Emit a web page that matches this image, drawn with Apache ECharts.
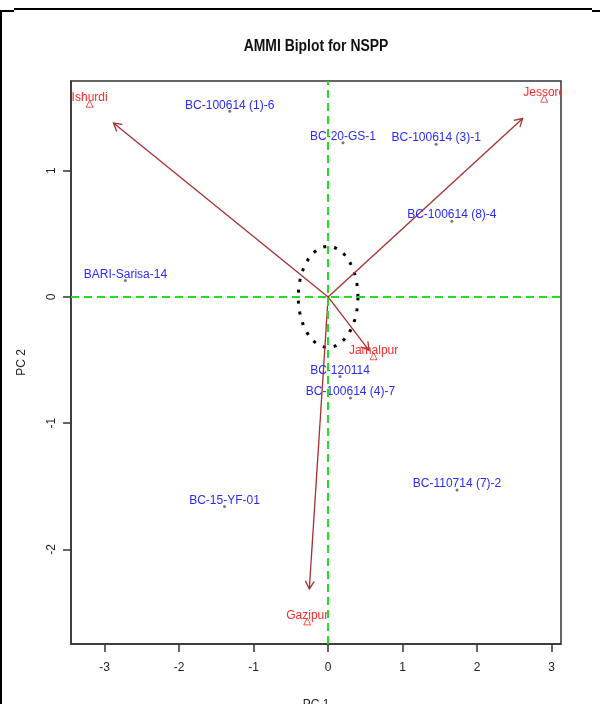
<!DOCTYPE html>
<html>
<head>
<meta charset="utf-8">
<title>AMMI Biplot for NSPP</title>
<script src="https://cdn.jsdelivr.net/npm/echarts@6/dist/echarts.min.js"></script>
<style>
  html, body { margin: 0; padding: 0; background: #ffffff; }
  #chart { width: 600px; height: 704px; }
</style>
</head>
<body>
<div id="chart"></div>
<script>
// Genotype scores on the first two interaction principal components
const genotypes = ['BC-100614 (1)-6', 'BC-20-GS-1', 'BC-100614 (3)-1', 'BC-100614 (8)-4',
  'BARI-Sarisa-14', 'BC-120114', 'BC-100614 (4)-7', 'BC-15-YF-01', 'BC-110714 (7)-2'];
const genoPC1 = [-1.32, 0.20, 1.45, 1.66, -2.72, 0.16, 0.30, -1.39, 1.73];
const genoPC2 = [1.47, 1.22, 1.21, 0.60, 0.13, -0.63, -0.80, -1.66, -1.53];

// Environment scores
const environments = ['Ishurdi', 'Jessore', 'Jamalpur', 'Gazipur'];
const envPC1 = [-3.20, 2.90, 0.61, -0.28];
const envPC2 = [1.53, 1.57, -0.47, -2.57];

// Environment vectors are drawn to 90% of the environment score
const ARROW_SCALE = 0.9;
// Radius of the dotted circle around the origin
const CIRCLE_R = 0.4;

// Axis ticks
const xTicks = [-3, -2, -1, 0, 1, 2, 3];
const yTicks = [-2, -1, 0, 1];

const FONT = 'Liberation Sans, Arial, sans-serif';
const BLUE = '#2a2aff';
const RED = '#ff2a2a';
const BROWN = '#a5302e';
const GREEN = '#22dd22';

const chart = echarts.init(document.getElementById('chart'), null, { renderer: 'canvas' });

const genoData = genotypes.map((g, i) => [genoPC1[i], genoPC2[i], i]);
const envData = environments.map((e, i) => [envPC1[i], envPC2[i], i]);
const arrowData = environments.map((e, i) => [ARROW_SCALE * envPC1[i], ARROW_SCALE * envPC2[i]]);

function labelRenderer(names, color) {
  return function (params, api) {
    const p = api.coord([api.value(0), api.value(1)]);
    return {
      type: 'text',
      x: p[0],
      y: p[1] - 6,
      style: {
        text: names[api.value(2)],
        fill: color,
        fontSize: 12,
        fontFamily: FONT,
        align: 'center',
        verticalAlign: 'middle'
      }
    };
  };
}

const option = {
  backgroundColor: '#ffffff',
  animation: false,
  graphic: [
    // page frame
    { type: 'line', shape: { x1: 14, y1: 9, x2: 592, y2: 9 }, style: { stroke: '#000', lineWidth: 2 } },
    { type: 'line', shape: { x1: 0, y1: 11, x2: 14, y2: 11 }, style: { stroke: '#000', lineWidth: 2 } },
    { type: 'line', shape: { x1: 592, y1: 11, x2: 600, y2: 11 }, style: { stroke: '#000', lineWidth: 2 } },
    { type: 'line', shape: { x1: 1, y1: 10, x2: 1, y2: 704 }, style: { stroke: '#000', lineWidth: 2 } },
    // title, set in a condensed bold face
    {
      type: 'text',
      x: 316, y: 47,
      scaleX: 0.87,
      style: {
        text: 'AMMI Biplot for NSPP',
        fill: '#111',
        fontSize: 16,
        fontWeight: 'bold',
        fontFamily: FONT,
        align: 'center',
        verticalAlign: 'middle'
      }
    }
  ],
  grid: {
    left: 71, top: 81, right: 39, bottom: 60,
    outerBoundsMode: 'none',
    containLabel: false,
    show: true, borderColor: '#333', borderWidth: 1.5, backgroundColor: 'transparent'
  },
  xAxis: {
    type: 'value',
    min: -3.45, max: 3.125,
    name: 'PC 1',
    nameLocation: 'middle',
    nameGap: 55,
    nameTextStyle: { fontSize: 12, color: '#222', fontFamily: FONT },
    axisLine: { show: true, onZero: false, lineStyle: { color: '#333', width: 1.5 } },
    axisTick: { show: true, length: 8, customValues: xTicks, lineStyle: { color: '#333', width: 1.5 } },
    axisLabel: { customValues: xTicks, margin: 18, fontSize: 12, color: '#222', fontFamily: FONT },
    splitLine: { show: false }
  },
  yAxis: {
    type: 'value',
    min: -2.749, max: 1.71,
    name: 'PC 2',
    nameLocation: 'middle',
    nameGap: 43,
    nameTextStyle: { fontSize: 12, color: '#222', fontFamily: FONT },
    axisLine: { show: true, onZero: false, lineStyle: { color: '#333', width: 1.5 } },
    axisTick: { show: true, length: 8, customValues: yTicks, lineStyle: { color: '#333', width: 1.5 } },
    axisLabel: { customValues: yTicks, rotate: 90, margin: 13, fontSize: 12, color: '#222', fontFamily: FONT },
    splitLine: { show: false }
  },
  series: [
    {
      // Reference lines through the origin
      type: 'scatter',
      data: [],
      silent: true,
      markLine: {
        silent: true,
        symbol: 'none',
        label: { show: false },
        lineStyle: { color: GREEN, width: 2, type: [8, 5] },
        data: [{ xAxis: 0 }, { yAxis: 0 }]
      }
    },
    {
      // Dotted circle around the origin
      type: 'custom',
      data: [[0, 0]],
      silent: true,
      renderItem: function (params, api) {
        const pts = [];
        const n = 120;
        for (let k = 0; k <= n; k++) {
          const t = (k / n) * Math.PI * 2;
          pts.push(api.coord([api.value(0) + CIRCLE_R * Math.cos(t), api.value(1) + CIRCLE_R * Math.sin(t)]));
        }
        return {
          type: 'polyline',
          shape: { points: pts },
          style: { stroke: '#000', lineWidth: 3, lineDash: [3, 8], fill: null }
        };
      }
    },
    {
      // Environment vectors
      type: 'custom',
      data: arrowData,
      silent: true,
      renderItem: function (params, api) {
        const p0 = api.coord([0, 0]);
        const p1 = api.coord([api.value(0), api.value(1)]);
        const ang = Math.atan2(p1[1] - p0[1], p1[0] - p0[0]);
        const L = 9, a = Math.PI / 6;
        const h1 = [p1[0] - L * Math.cos(ang - a), p1[1] - L * Math.sin(ang - a)];
        const h2 = [p1[0] - L * Math.cos(ang + a), p1[1] - L * Math.sin(ang + a)];
        return {
          type: 'group',
          children: [
            { type: 'line', shape: { x1: p0[0], y1: p0[1], x2: p1[0], y2: p1[1] }, style: { stroke: BROWN, lineWidth: 1.3 } },
            { type: 'polyline', shape: { points: [h1, p1, h2] }, style: { stroke: BROWN, lineWidth: 1.3, fill: null } }
          ]
        };
      }
    },
    {
      // Genotype points
      type: 'scatter',
      data: genoData,
      symbol: 'circle',
      symbolSize: 3,
      itemStyle: { color: '#555' },
      silent: true
    },
    {
      // Environment points
      type: 'scatter',
      data: envData,
      symbol: 'triangle',
      symbolSize: 7,
      itemStyle: { color: 'rgba(0,0,0,0)', borderColor: RED, borderWidth: 1 },
      silent: true
    },
    {
      type: 'custom',
      data: genoData,
      clip: true,
      silent: true,
      renderItem: labelRenderer(genotypes, BLUE)
    },
    {
      type: 'custom',
      data: envData,
      clip: true,
      silent: true,
      renderItem: labelRenderer(environments, RED)
    }
  ]
};

chart.setOption(option);
</script>
</body>
</html>
